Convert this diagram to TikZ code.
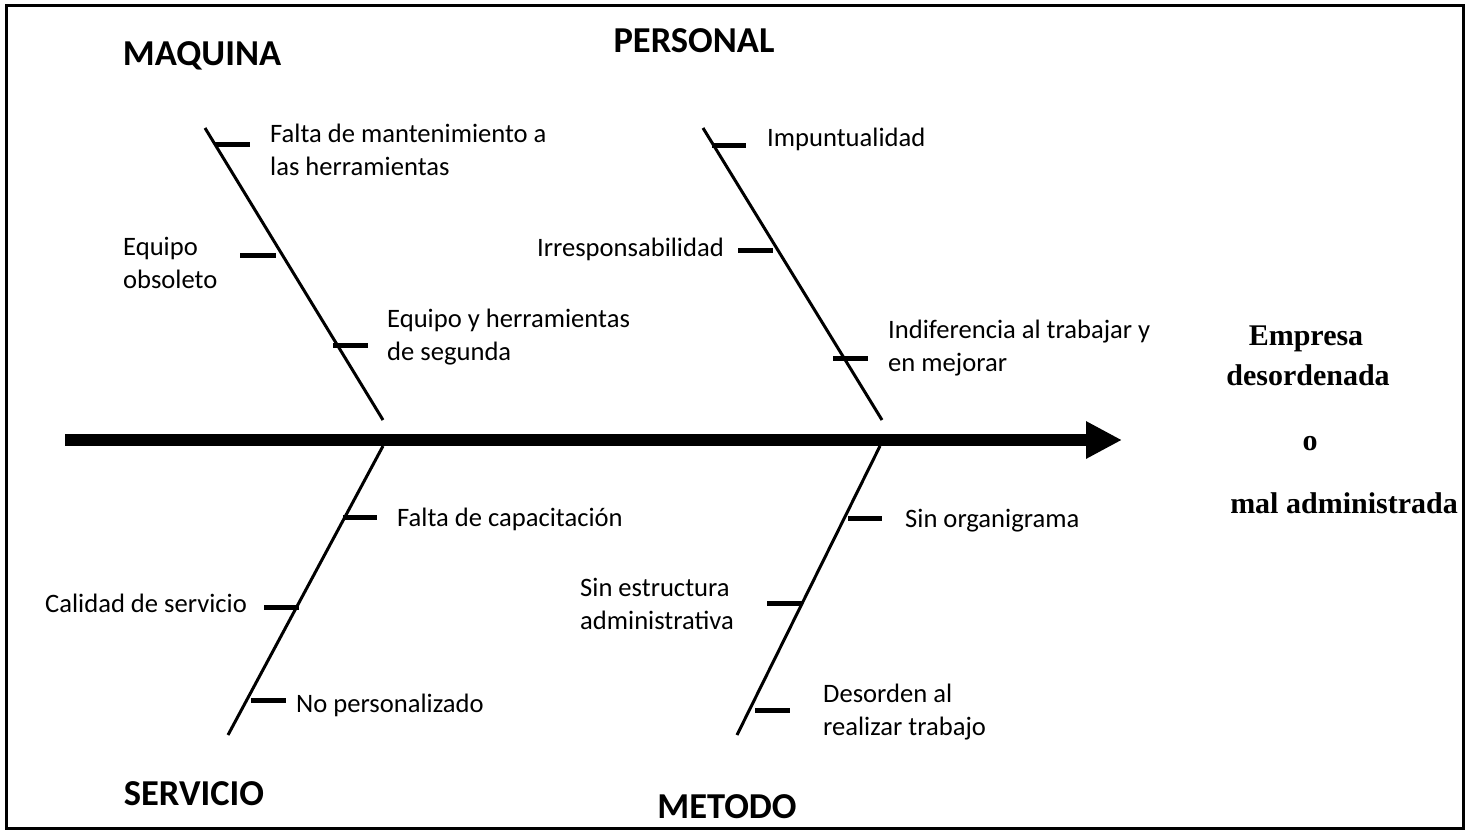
\documentclass[tikz,border=0pt]{standalone}
\usepackage{fontspec}
\setmainfont{Carlito}
\newfontfamily\tnr{Liberation Serif}
\usetikzlibrary{arrows.meta}
\begin{document}
\begin{tikzpicture}[x=1pt,y=-1pt,
  lbl/.style={font=\fontsize{26.6}{32.5}\selectfont, inner sep=0pt, align=left},
  headtxt/.style={font=\fontsize{36.5}{40}\selectfont\bfseries, inner sep=0pt},
  efecto/.style={font=\fontsize{30}{34}\selectfont\tnr\bfseries, inner sep=0pt, anchor=base},
  bone/.style={line width=3pt},
  tickmark/.style={line width=5pt},
  spine/.style={line width=12.5pt, -{Triangle[length=36pt,width=35pt]}}
]
\useasboundingbox (0,0) rectangle (1472,832);
\draw[line width=3pt] (6,6) rectangle (1463,828);

% spine
\coordinate (tail) at (65,440);
\coordinate (tip) at (1122,440);
\draw[spine] (tail) -- (tip);

% bones
\coordinate (m1) at (205,128); \coordinate (m2) at (383,420);
\coordinate (p1) at (703,128); \coordinate (p2) at (882,420);
\coordinate (s1) at (383,446); \coordinate (s2) at (228,735);
\coordinate (t1) at (880,446); \coordinate (t2) at (737,735);
\draw[bone] (m1) -- (m2);
\draw[bone] (p1) -- (p2);
\draw[bone] (s1) -- (s2);
\draw[bone] (t1) -- (t2);

% ticks
\draw[tickmark] (215,145) -- (250,145);
\draw[tickmark] (240,255) -- (276,255);
\draw[tickmark] (333,345) -- (368,345);
\draw[tickmark] (712,146) -- (746,146);
\draw[tickmark] (738,250) -- (773,250);
\draw[tickmark] (833,358) -- (868,358);
\draw[tickmark] (343,517) -- (377,517);
\draw[tickmark] (264,607) -- (299,607);
\draw[tickmark] (251,700) -- (286,700);
\draw[tickmark] (848,518) -- (882,518);
\draw[tickmark] (767,603) -- (802,603);
\draw[tickmark] (755,710) -- (790,710);

% headings
\node[headtxt] (hmaq) at (202,56) {MAQUINA};
\node[headtxt] (hper) at (694,41) {PERSONAL};
\node[headtxt] (hser) at (194,794) {SERVICIO};
\node[headtxt] (hmet) at (727,807) {METODO};

% labels
\node[lbl, anchor=west] (l1) at (270,150) {Falta de mantenimiento a\\las herramientas};
\node[lbl, anchor=west] (l2) at (123,263) {Equipo\\obsoleto};
\node[lbl, anchor=west] (l3) at (387,337) {Equipo y herramientas\\de segunda};
\node[lbl, anchor=west] (l4) at (767,139) {Impuntualidad};
\node[lbl, anchor=east] (l5) at (724,249) {Irresponsabilidad};
\node[lbl, anchor=west] (l6) at (888,348) {Indiferencia al trabajar y\\en mejorar};
\node[lbl, anchor=west] (l7) at (397,519) {Falta de capacitación};
\node[lbl, anchor=west] (l8) at (45,603) {Calidad de servicio};
\node[lbl, anchor=west] (l9) at (296,705) {No personalizado};
\node[lbl, anchor=west] (l10) at (905,521) {Sin organigrama};
\node[lbl, anchor=west] (l11) at (580,604) {Sin estructura\\administrativa};
\node[lbl, anchor=west] (l12) at (823,712) {Desorden al\\realizar trabajo};

% effect
\node[efecto] (e1) at (1306,345) {Empresa};
\node[efecto] (e2) at (1308,385) {desordenada};
\node[efecto] (e3) at (1310,450) {o};
\node[efecto] (e4) at (1344,513) {mal administrada};
\end{tikzpicture}
\end{document}
